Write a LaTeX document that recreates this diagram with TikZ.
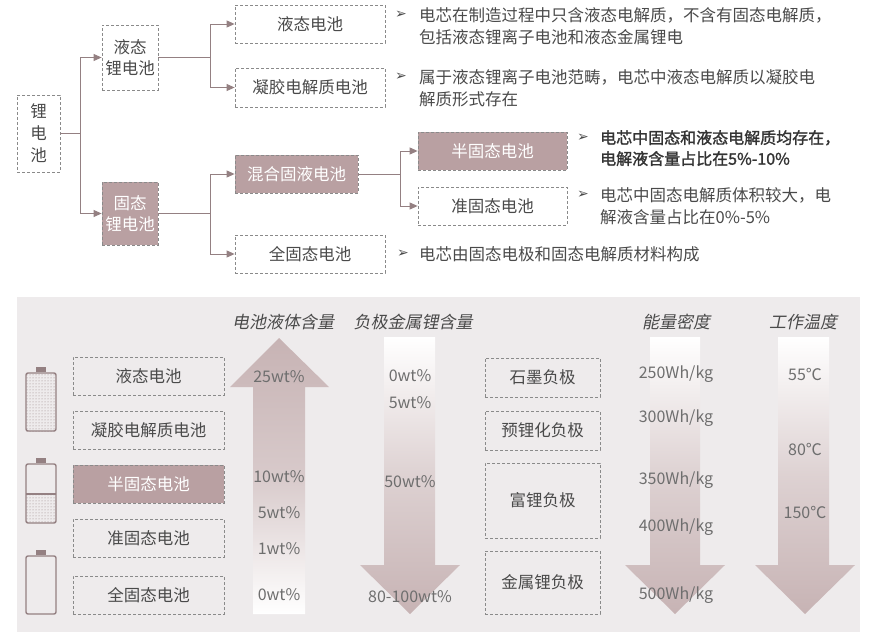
\documentclass[tikz,border=0pt]{standalone}
\usepackage{fontspec}
\setmainfont{Noto Sans CJK SC}
\newfontfamily\cjki[FakeSlant=0.2]{Noto Sans CJK SC}
\newfontfamily\cjkb[FakeBold=1.5]{Noto Sans CJK SC}
\newfontfamily\djv{DejaVu Sans}
\usetikzlibrary{patterns,arrows.meta}
\definecolor{rose}{HTML}{B9A0A2}
\definecolor{arr}{HTML}{C7B3B4}
\definecolor{txt}{HTML}{4A4A4A}
\definecolor{dash}{HTML}{8A8A8A}
\definecolor{panel}{HTML}{EEEBEC}
\tikzset{
 bx/.style={draw=dash,dash pattern=on 3pt off 2pt,line width=0.8pt,text=txt,font=\fontsize{16.5}{18}\selectfont,inner sep=0pt},
 fbx/.style={bx,fill=rose,text=white},
 con/.style={draw=rose!80!black,line width=0.9pt},
 tip/.style={-{Triangle[length=8pt,width=7pt,fill=rose!80!black]},draw=rose!80!black,line width=0.9pt},
 desc/.style={anchor=north west,text=txt,font=\fontsize{16.5}{22}\selectfont,align=left,inner sep=0pt},
 blt/.style={anchor=north west,text=txt,font=\djv\fontsize{14}{14}\selectfont,inner sep=0pt},
 lab/.style={text=txt!80,font=\fontsize{16}{18}\selectfont,inner sep=0pt},
 hd/.style={text=txt,font=\cjki\fontsize{17}{19}\selectfont,inner sep=0pt},
}
\begin{document}
\begin{tikzpicture}[x=1pt,y=-1pt]
\useasboundingbox (0,0) rectangle (880,636);
\fill[white] (0,0) rectangle (880,636);
% ---- tree ----
\node[bx,minimum width=43pt,minimum height=77pt,align=center,font=\fontsize{16.5}{22}\selectfont] (li) at (38.5,133.5) {锂\\电\\池};
\node[bx,minimum width=56pt,minimum height=65pt,align=center,font=\fontsize{16.5}{21}\selectfont] (ye) at (130,57.5) {液态\\锂电池};
\node[fbx,minimum width=56pt,minimum height=63pt,align=center,font=\fontsize{16.5}{21}\selectfont] (gu) at (130,213.5) {固态\\锂电池};
\node[bx,minimum width=150pt,minimum height=38pt] (yt) at (310,24) {液态电池};
\node[bx,minimum width=150pt,minimum height=39pt] (nj) at (310,87.5) {凝胶电解质电池};
\node[fbx,minimum width=123pt,minimum height=38pt] (hh) at (296.5,174) {混合固液电池};
\node[bx,minimum width=150pt,minimum height=38pt] (qg) at (310,254) {全固态电池};
\node[fbx,minimum width=149pt,minimum height=38pt] (bg) at (492.5,151) {半固态电池};
\node[bx,minimum width=149pt,minimum height=38pt] (zg) at (492.5,206) {准固态电池};
% connectors
\coordinate (j1) at (80,133.5);
\draw[con] (li.east) -- (j1);
\draw[tip] (80,133.5) |- (ye.west);
\draw[tip] (80,133.5) |- (gu.west);
\draw[con] (ye.east) -- (210,57.5);
\draw[tip] (210,57.5) |- (yt.west);
\draw[tip] (210,57.5) |- (nj.west);
\draw[con] (gu.east) -- (210,213.5);
\draw[tip] (210,213.5) |- (hh.west);
\draw[tip] (210,213.5) |- (qg.west);
\draw[con] (hh.east) -- (400,174);
\draw[tip] (400,174) |- (bg.west);
\draw[tip] (400,174) |- (zg.west);
% descriptions
\node[blt] (b1) at (395,11) {➢};
\node[desc] (d1t) at (419,7) {电芯在制造过程中只含液态电解质，不含有固态电解质，\\包括液态锂离子电池和液态金属锂电};
\node[blt] (b2) at (395,73) {➢};
\node[desc] (d2t) at (419,69) {属于液态锂离子电池范畴，电芯中液态电解质以凝胶电\\解质形式存在};
\node[blt] (b3) at (577,134) {➢};
\node[desc,font=\cjkb\fontsize{16}{21}\selectfont,text=black!80] (d3t) at (600,130) {电芯中固态和液态电解质均存在，\\电解液含量占比在5\%-10\%};
\node[blt] (b4) at (577,191) {➢};
\node[desc] (d4t) at (600,187) {电芯中固态电解质体积较大，电\\解液含量占比在0\%-5\%};
\node[blt] (b5) at (397,250) {➢};
\node[desc] (d5t) at (419,246) {电芯由固态电极和固态电解质材料构成};
% ---- panel ----
\fill[panel] (17,297) rectangle (860,632);
\node[hd] (h1) at (283,322) {电池液体含量};
\node[hd] (h2) at (413,322) {负极金属锂含量};
\node[hd] (h3) at (676,322) {能量密度};
\node[hd] (h4) at (803,322) {工作温度};
% arrows
\shade[top color=arr,bottom color=white,middle color=arr!70] (279,338) -- (329,387) -- (305,387) -- (305,614) -- (253,614) -- (253,387) -- (230,387) -- cycle;
\foreach \x/\a/\b in {410/384/435, 675/650/700, 805/778/829}{
 \shade[top color=white,bottom color=arr,middle color=arr!60] (\a,337) -- (\b,337) -- (\b,565) -- (\x+50,565) -- (\x,614) -- (\x-50,565) -- (\a,565) -- cycle;
}
\foreach \t/\y in {25wt\%/377,10wt\%/477,5wt\%/513,1wt\%/549,0wt\%/595}{\node[lab] at (279,\y) {\t};}
\foreach \t/\y in {0wt\%/376,5wt\%/403,50wt\%/482,80-100wt\%/597}{\node[lab] at (410,\y) {\t};}
\foreach \t/\y in {{250Wh/kg}/374,{300Wh/kg}/418,{350Wh/kg}/480,{400Wh/kg}/527,{500Wh/kg}/595}{\node[lab] at (676,\y) {\t};}
\foreach \t/\y in {55℃/374,80℃/449,150℃/512}{\node[lab] at (805,\y) {\t};}
% left boxes
\node[bx,minimum width=151pt,minimum height=38pt] (l1) at (148.5,376) {液态电池};
\node[bx,minimum width=151pt,minimum height=38pt] (l2) at (148.5,430) {凝胶电解质电池};
\node[fbx,minimum width=151pt,minimum height=38pt] (l3) at (148.5,484) {半固态电池};
\node[bx,minimum width=151pt,minimum height=38pt] (l4) at (148.5,538) {准固态电池};
\node[bx,minimum width=151pt,minimum height=38pt] (l5) at (148.5,595) {全固态电池};
% middle boxes
\node[bx,minimum width=115pt,minimum height=39pt] (m1) at (542.5,377.5) {石墨负极};
\node[bx,minimum width=115pt,minimum height=39pt] (m2) at (542.5,430.5) {预锂化负极};
\node[bx,minimum width=115pt,minimum height=75pt] (m3) at (542.5,500.5) {富锂负极};
\node[bx,minimum width=115pt,minimum height=63pt] (m4) at (542.5,582.5) {金属锂负极};
% batteries
\tikzset{bat/.style={draw=rose!80!black,line width=1.4pt,rounded corners=2pt}}
\foreach \t in {372,463,555}{
 \fill[rose!80!black] (36,\t-5) rectangle (46,\t);
}
\fill[pattern=dots,pattern color=rose!80!black] (26,373) rectangle (56,431);
\draw[bat] (26,373) rectangle (56,431);
\fill[pattern=dots,pattern color=rose!80!black] (26,494) rectangle (56,523);
\draw[rose!80!black,line width=1.2pt] (26,494) -- (56,494);
\draw[bat] (26,464) rectangle (56,523);
\draw[bat] (26,556) rectangle (56,614);
\end{tikzpicture}
\end{document}
